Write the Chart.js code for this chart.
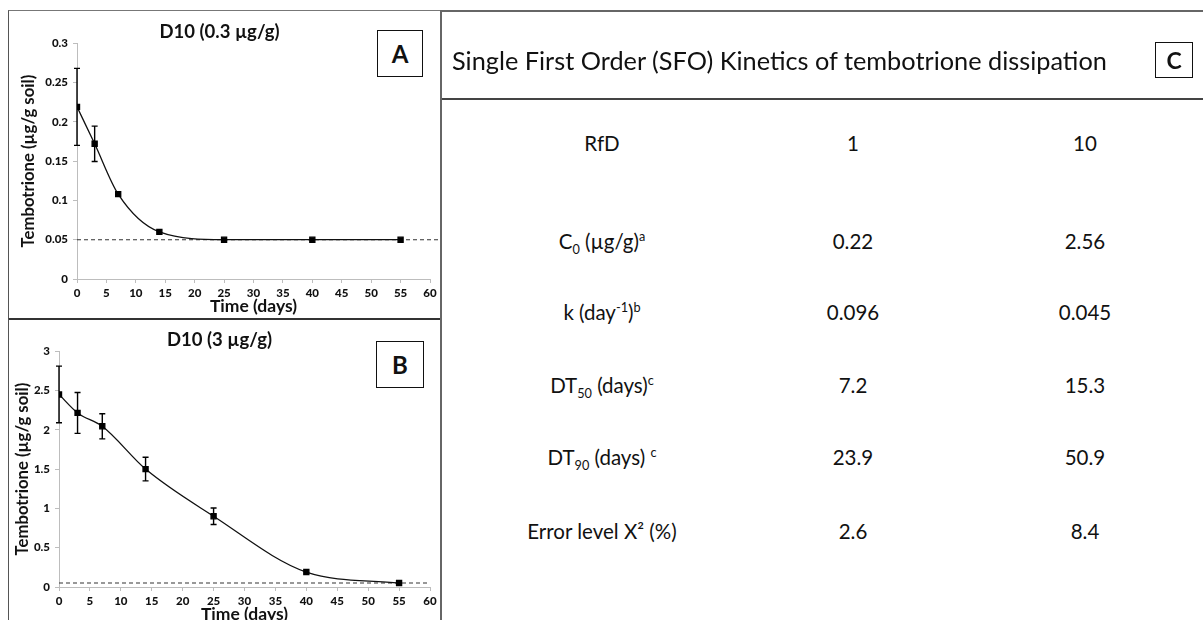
<!DOCTYPE html>
<html>
<head>
<meta charset="utf-8">
<script src="https://cdn.jsdelivr.net/npm/chart.js@4.4.1/dist/chart.umd.min.js"></script>
<style>
html, body { margin: 0; padding: 0; background: #fff; }
body { width: 1203px; height: 620px; overflow: hidden; position: relative; font-family: Lato, "Open Sans", sans-serif; color: #111; }
.panel { position: absolute; left: 8px; width: 432px; border-left: 1px solid #555; }
#panelA { top: 10px; height: 307px; border-top: 1px solid #777; border-bottom: 2px solid #333; }
#panelB { top: 319px; height: 310px; }
.vline { position: absolute; left: 440px; top: 10px; height: 620px; border-left: 2px solid #666; }
.wrap { position: absolute; left: 9px; width: 431px; height: 306px; }
#wrapA { top: 11px; }
#wrapB { top: 320px; }
.tag { position: absolute; box-sizing: border-box; border: 1.5px solid #111; font-weight: bold; font-size: 24px;
       display: flex; align-items: center; justify-content: center; background: #fff; }
#tableC { position: absolute; left: 442px; top: 10px; width: 761px; height: 610px; border-top: 2px solid #666; }
#tableHead { position: absolute; left: 0; top: 0; width: 761px; height: 86px; border-bottom: 2px solid #444; }
#tableHead .title { position: absolute; left: 10px; top: 33px; line-height: 30px; font-size: 25.3px; white-space: nowrap; }
.cell { position: absolute; width: 300px; height: 30px; line-height: 30px; text-align: center; font-size: 20.5px; white-space: nowrap; }
.cell sub, .cell sup { font-size: 62%; line-height: 0; }
</style>
</head>
<body>
<div class="panel" id="panelA"></div>
<div class="panel" id="panelB"></div>
<div class="vline"></div>
<div class="wrap" id="wrapA"><canvas id="chartA" width="431" height="306"></canvas></div>
<div class="wrap" id="wrapB"><canvas id="chartB" width="431" height="306"></canvas></div>
<div class="tag" style="left:377px;top:30px;width:46px;height:47px;">A</div>
<div class="tag" style="left:376px;top:341px;width:48px;height:47px;">B</div>
<div id="tableC">
  <div id="tableHead"><div class="title" id="tableTitle"></div>
    <div class="tag" style="left:713px;top:30px;width:38px;height:36px;font-size:23px;">C</div>
  </div>
</div>
<script>
// sampling days
var days = [0, 3, 7, 14, 25, 40, 55];

// D10, 0.3 ug/g
var concA = [0.219, 0.172, 0.108, 0.060, 0.050, 0.050, 0.050];
var sdA = [0.049, 0.0225, 0, 0, 0, 0, 0];

// D10, 3 ug/g
var concB = [2.45, 2.215, 2.045, 1.50, 0.90, 0.19, 0.05];
var sdB = [0.36, 0.26, 0.16, 0.15, 0.105, 0, 0];

// dashed limit line
var loq = 0.05;

var xTicks = [0, 5, 10, 15, 20, 25, 30, 35, 40, 45, 50, 55, 60];

// table C
var tableTitle = "Single First Order (SFO) Kinetics of tembotrione dissipation";
var rfdHeader = ["RfD", "1", "10"];
var paramLabels = ["C<sub>0</sub> (µg/g)<sup>a</sup>", "k (day<sup>-1</sup>)<sup>b</sup>",
    "DT<sub>50</sub> (days)<sup>c</sup>", "DT<sub>90</sub> (days) <sup>c</sup>", "Error level X² (%)"];
var valuesRfd1 = ["0.22", "0.096", "7.2", "23.9", "2.6"];
var valuesRfd10 = ["2.56", "0.045", "15.3", "50.9", "8.4"];

Chart.defaults.font.family = "Lato, 'Open Sans', sans-serif";
Chart.defaults.color = "#111";

var errorBars = {
    id: "errorBars",
    afterDatasetsDraw: function (chart, args, opts) {
        var ctx = chart.ctx, x = chart.scales.x, y = chart.scales.y;
        ctx.save();
        ctx.strokeStyle = "#000";
        ctx.lineWidth = 1.4;
        for (let i = 0; i < opts.x.length; i++) {
            if (!opts.sd[i]) continue;
            var px = x.getPixelForValue(opts.x[i]);
            var top = y.getPixelForValue(opts.y[i] + opts.sd[i]);
            var bot = y.getPixelForValue(opts.y[i] - opts.sd[i]);
            ctx.beginPath();
            ctx.moveTo(px, top); ctx.lineTo(px, bot);
            ctx.moveTo(px - 3, top); ctx.lineTo(px + 3, top);
            ctx.moveTo(px - 3, bot); ctx.lineTo(px + 3, bot);
            ctx.stroke();
        }
        ctx.restore();
    }
};

function plotDecay(dest, title, conc, sd, yMax, yStep, lay)
{
    var pts = [];
    for (let i = 0; i < days.length; i++) {
        pts.push({x: days[i], y: conc[i]});
    }
    const ctx = document.getElementById(dest).getContext("2d");
    return new Chart(ctx, {
        type: "line",
        data: {
            datasets: [{
                data: pts,
                borderColor: "#111",
                borderWidth: 1.3,
                cubicInterpolationMode: "monotone",
                pointStyle: "rect",
                pointRadius: 3.6,
                pointBackgroundColor: "#000",
                pointBorderColor: "#000",
                order: 0
            }, {
                data: [{x: 0, y: loq}, {x: lay.loqEnd, y: loq}],
                borderColor: "#333",
                borderWidth: 1.1,
                borderDash: [4, 3],
                pointRadius: 0,
                clip: false,
                order: 1
            }]
        },
        options: {
            responsive: false,
            animation: false,
            layout: { padding: { left: 0, right: 10, top: 0, bottom: 0 } },
            scales: {
                x: {
                    type: "linear",
                    min: 0, max: 60,
                    afterBuildTicks: function (s) { s.ticks = xTicks.map(function (v) { return {value: v}; }); },
                    afterFit: function (s) { s.height = lay.xHeight; },
                    grid: { drawOnChartArea: false, color: "#bdbdbd", tickLength: 4 },
                    border: { color: "#bdbdbd" },
                    ticks: { font: { size: 11.5, weight: "900" }, padding: 3, maxRotation: 0 },
                    title: { display: true, text: "Time (days)", font: { size: 17.5, weight: "bold" },
                             padding: { top: 0, bottom: lay.xTitlePad } }
                },
                y: {
                    min: 0, max: yMax,
                    afterFit: function (s) { s.width = lay.yWidth; },
                    grid: { drawOnChartArea: false, color: "#bdbdbd", tickLength: 4 },
                    border: { color: "#bdbdbd" },
                    ticks: { stepSize: yStep, font: { size: 11.5, weight: "900" }, padding: 5,
                             callback: function (v) { return +v.toFixed(2); } },
                    title: { display: true, text: "Tembotrione (µg/g soil)", font: { size: 16.7, weight: "bold" },
                             padding: { top: lay.yTitlePad, bottom: 0 } }
                }
            },
            plugins: {
                legend: { display: false },
                tooltip: { enabled: false },
                title: { display: true, text: title, color: "#111", font: { size: 18.5, weight: "bold" },
                         padding: { top: lay.titleTop, bottom: lay.titleBottom } },
                errorBars: { x: days, y: conc, sd: sd }
            }
        },
        plugins: [errorBars]
    });
}

plotDecay("chartA", "D10 (0.3 µg/g)", concA, sdA, 0.3, 0.05,
    { loqEnd: 62.5, xHeight: 38, xTitlePad: 0, yWidth: 68, yTitlePad: 10, titleTop: 10, titleBottom: 0 });
plotDecay("chartB", "D10 (3 µg/g)", concB, sdB, 3, 0.5,
    { loqEnd: 60, xHeight: 39, xTitlePad: 1, yWidth: 50, yTitlePad: 3.5, titleTop: 9, titleBottom: 0 });

// table C
document.getElementById("tableTitle").textContent = tableTitle;
var rowCenters = [131, 229, 300, 373, 445, 519];
var colCenters = [160, 411, 643];
var rows = [rfdHeader];
for (let i = 0; i < paramLabels.length; i++) {
    rows.push([paramLabels[i], valuesRfd1[i], valuesRfd10[i]]);
}
var tbl = document.getElementById("tableC");
for (let r = 0; r < rows.length; r++) {
    for (let c = 0; c < 3; c++) {
        var d = document.createElement("div");
        d.className = "cell";
        d.style.left = (colCenters[c] - 150) + "px";
        d.style.top = (rowCenters[r] - 15) + "px";
        d.innerHTML = rows[r][c];
        tbl.appendChild(d);
    }
}
</script>
</body>
</html>
